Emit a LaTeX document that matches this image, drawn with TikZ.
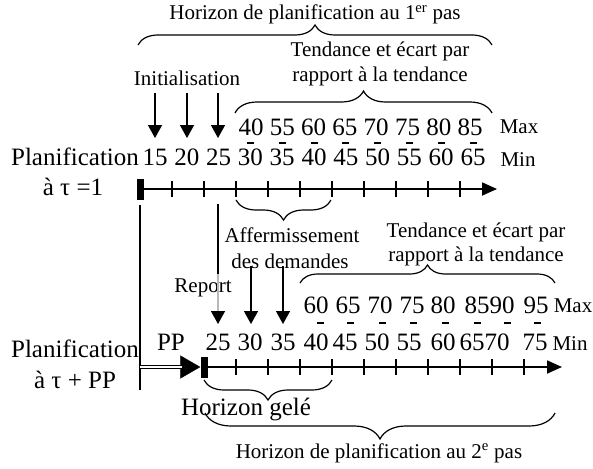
\documentclass[tikz,border=0pt]{standalone}
\usepackage{fontspec}
\setmainfont{Liberation Serif}
\usetikzlibrary{arrows.meta,decorations.pathreplacing}
\begin{document}
\begin{tikzpicture}[x=1pt,y=-1pt,
  big/.style={font=\fontsize{25}{30}\selectfont, inner sep=0pt, anchor=base},
  small/.style={font=\fontsize{21}{25}\selectfont, inner sep=0pt, anchor=base},
  axisline/.style={line width=1.8pt, -{Triangle[length=15pt,width=13pt]}},
  tickline/.style={line width=1.3pt},
  vline/.style={line width=1.5pt},
  barbox/.style={fill=black, draw=none, minimum width=7pt, minimum height=21pt, inner sep=0pt},
  brc/.style={decorate, decoration={brace, amplitude=#1}, line width=1.2pt},
  darrow/.style={line width=1.5pt, -{Triangle[length=13pt,width=14pt]}},
  dashmark/.style={fill=black, draw=none, minimum width=7pt, minimum height=2.5pt, inner sep=0pt},
]
\useasboundingbox (0,0) rectangle (593,468);

% ---------- top axis ----------
\node[barbox] (tb) at (140,189) {};
\coordinate (tend) at (497,189);
\draw[axisline] (tb.east) -- (tend);
\foreach \k in {1,...,10} \draw[tickline] ({140+32*\k},181) -- ({140+32*\k},197);

% ---------- bottom axis ----------
\node[barbox] (bb) at (204,367) {};
\coordinate (bend) at (562,367);
\draw[axisline] (bb.east) -- (bend);
\foreach \k in {1,...,10} \draw[tickline] ({204+32*\k},359) -- ({204+32*\k},375);

% vertical link and double arrow
\coordinate (vbot) at (140,390);
\coordinate (dstart) at (140,367);
\draw[vline, shorten <=5pt] (tb.south) -- (vbot);
\draw[line width=0.3pt, -{Triangle[length=20pt,width=23pt]}] (dstart) -- (bb.west);
\draw[line width=1.1pt, double, double distance=2.6pt, shorten >=18pt] (dstart) -- (bb.west);

% ---------- left labels ----------
\node[big] (plan1) at (75,165) {Planification};
\node[big] (tau1) at (73,195) {à τ =1};
\node[big] (plan2) at (75,357) {Planification};
\node[big] (tau2) at (75,388) {à τ + PP};
\node[big] (pp) at (171,350) {PP};

% ---------- top numbers ----------
\foreach \n [count=\i from 0] in {40,55,60,65,70,75,80,85}
  \node[big] (tmax\i) at ({251+31.3*\i},135) {\n};
\foreach \n [count=\i from 0] in {15,20,25,30,35,40,45,50,55,60,65}
  \node[big] (tmin\i) at ({155+31.8*\i},165) {\n};
\foreach \i in {3,...,10}
  \node[dashmark] (tdash\i) at ({155+31.8*\i},143) {};
\node[small] (tmaxl) at (519,133) {Max};
\node[small] (tminl) at (518,166) {Min};

% ---------- bottom numbers ----------
\foreach \n/\x [count=\i] in {60/316,65/348,70/380,75/412,80/443,85/477,90/502,95/536}
  \node[big] (bmax\i) at (\x,313) {\n};
\foreach \n/\x [count=\i] in {25/218,30/250,35/283,40/316,45/345,50/377,55/409,60/443,65/472,70/497,75/535}
  \node[big] (bmin\i) at (\x,350) {\n};
\foreach \x [count=\i] in {320,350,382,413,445,477,507,537}
  \node[dashmark] (bdash\i) at (\x,323) {};
\node[small] (bmaxl) at (573,312) {Max};
\node[small] (bminl) at (570,350) {Min};

% ---------- top annotations ----------
\node[small] (hor1) at (315,20) {Horizon de planification au 1\textsuperscript{er} pas};
\draw[brc=20] (138,45) -- (492,45);
\node[small] (tend1a) at (380,57) {Tendance et écart par};
\node[small] (tend1b) at (380,82) {rapport à la tendance};
\draw[brc=22] (235,113) -- (492,113);
\node[small] (init) at (187,85) {Initialisation};
\foreach \x [count=\i] in {155,187,218} {
  \coordinate (ia\i) at (\x,93);
  \coordinate (ib\i) at (\x,138);
  \draw[darrow] (ia\i) -- (ib\i);
}

% ---------- middle annotations ----------
\draw[brc=20] (331,200) -- (236,200);
\node[small] (aff1) at (292,242) {Affermissement};
\node[small] (aff2) at (290,268) {des demandes};
\node[small] (report) at (203,292) {Report};
\coordinate (r1) at (218,204);
\coordinate (r2) at (218,274);
\coordinate (r3) at (218,324);
\draw[vline] (r1) -- (r2);
\draw[line width=1.5pt, gray!55, -{Triangle[length=13pt,width=14pt,color=black]}] (r2) -- (r3);
\foreach \x [count=\i] in {251,283} {
  \coordinate (fa\i) at (\x,266);
  \coordinate (fb\i) at (\x,324);
  \draw[darrow] (fa\i) -- (fb\i);
}
\node[small] (tend2a) at (476,237) {Tendance et écart par};
\node[small] (tend2b) at (476,261) {rapport à la tendance};
\draw[brc=18] (300,283) -- (555,283);

% ---------- bottom annotations ----------
\draw[brc=20] (332,380) -- (204,380);
\node[big] (gele) at (246,415) {Horizon gelé};
\draw[brc=26] (555,413) -- (205,413);
\node[small] (hor2) at (379,458) {Horizon de planification au 2\textsuperscript{e} pas};
\end{tikzpicture}
\end{document}
